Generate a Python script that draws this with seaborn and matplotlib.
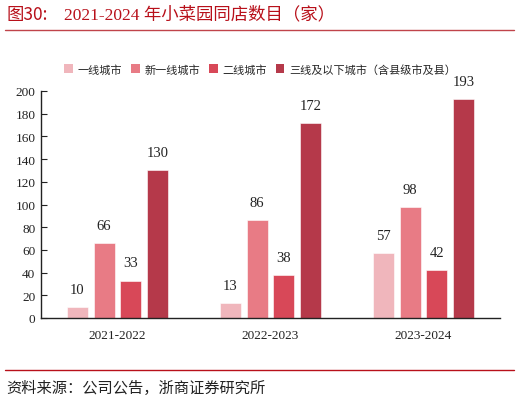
import matplotlib
matplotlib.use("Agg")
import matplotlib.pyplot as plt
import seaborn as sns
import pandas as pd

periods = ["2021-2022", "2022-2023", "2023-2024"]
tiers = ["一线城市", "新一线城市", "二线城市", "三线及以下城市（含县级市及县）"]
tier1 = [10, 13, 57]
new_tier1 = [66, 86, 98]
tier2 = [33, 38, 42]
tier3 = [130, 172, 193]
colors = ["#F0B6BC", "#E87B85", "#D84858", "#B5394A"]
yticks = list(range(0, 201, 20))

sns.set_theme(style="white")
plt.rcParams['font.family'] = ['Liberation Serif', 'Noto Sans CJK SC']

rows = []
for name, vals in zip(tiers, [tier1, new_tier1, tier2, tier3]):
    for p, v in zip(periods, vals):
        rows.append({"period": p, "tier": name, "value": v})
df = pd.DataFrame(rows)

fig = plt.figure(figsize=(5.2, 4.02), dpi=100)
ax = fig.add_axes([41/520, 1-319/402, 459/520, 227/402])
sns.barplot(data=df, x="period", y="value", hue="tier", palette=colors,
            width=0.7, gap=0.22, ax=ax, legend=False, saturation=1,
            edgecolor="white", linewidth=0.4)

for cont in ax.containers:
    ax.bar_label(cont, padding=8, fontsize=10.5, color="#222222",
                 family="Liberation Serif")

ax.set_ylim(0, 200)
ax.set_yticks(yticks)
ax.set_xlim(-0.5, 2.5)
ax.set_xlabel("")
ax.set_ylabel("")
for s in ["top", "right"]:
    ax.spines[s].set_visible(False)
for s in ["left", "bottom"]:
    ax.spines[s].set_color("#222222")
    ax.spines[s].set_linewidth(1.0)
ax.tick_params(axis="y", direction="in", length=4, width=0.8, color="#222222",
               labelsize=9.5, labelcolor="#222222", left=True, pad=4)
ax.tick_params(axis="x", length=0, labelsize=9.5, labelcolor="#222222", pad=8)
for lab in ax.get_xticklabels() + ax.get_yticklabels():
    lab.set_family("Liberation Serif")

# legend
from matplotlib.patches import Patch
handles = [Patch(facecolor=c, edgecolor="none") for c in colors]
fig.legend(handles, tiers, loc="center", bbox_to_anchor=(0.5, 1-70/402),
           ncol=4, frameon=False, prop={"family": "Noto Sans CJK SC", "size": 8},
           handlelength=0.8, handleheight=0.8, handletextpad=0.4, columnspacing=0.8)

# title and decorations
fig.text(6/520, 1-15/402, "图30:", family=["Noto Sans CJK SC"], fontsize=12.5,
         color="#B8101A", va="center", ha="left")
fig.text(64/520, 1-15/402, "2021-2024 年小菜园同店数目（家）",
         family=["Liberation Serif", "Noto Sans CJK SC"], fontsize=12.5,
         color="#B8101A", va="center", ha="left")
fig.add_artist(plt.Line2D([5/520, 514/520], [1-31/402, 1-31/402],
                          color="#C0444A", linewidth=1.0))
fig.add_artist(plt.Line2D([5/520, 514/520], [1-371/402, 1-371/402],
                          color="#B8101A", linewidth=1.0))
fig.text(6/520, 1-388/402, "资料来源：公司公告，浙商证券研究所",
         family=["Noto Sans CJK SC"], fontsize=11, color="#222222",
         va="center", ha="left")

fig.savefig("out.png", dpi=100)
